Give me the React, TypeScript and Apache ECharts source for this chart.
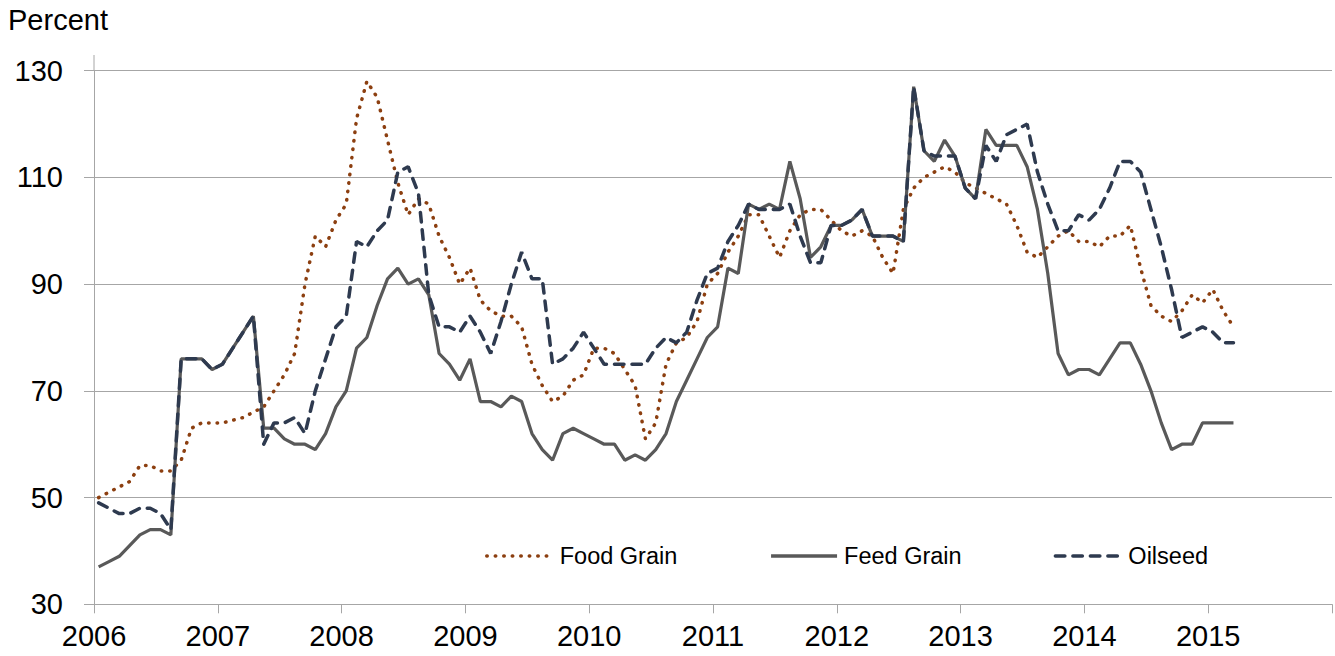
import React, { useEffect, useRef } from "react";
import * as echarts from "echarts";

const FONT = "'Liberation Sans', Arial, Helvetica, sans-serif";

const startYear = 2006;
const seriesNames = ["Food Grain", "Feed Grain", "Oilseed"];
const xTickYears = [2006, 2007, 2008, 2009, 2010, 2011, 2012, 2013, 2014, 2015];
const yTickLabels = [30, 50, 70, 90, 110, 130];

// Monthly values, Jan 2006 .. Mar 2015 (percent)
const foodGrain = [
  50, 51, 52, 53, 56, 56, 55, 55, 57, 63,
  64, 64, 64, 64.5, 65, 66, 67, 70, 73, 77,
  90, 99, 97, 102, 105, 121, 128, 125, 117, 109,
  103, 106, 105, 99, 95, 90, 93, 87, 85, 84,
  84, 82, 75, 71, 68, 69, 72, 73, 78, 78,
  77, 74, 71, 61, 64, 75, 79, 80, 83, 90,
  92, 96, 99, 103, 103, 99, 95, 100, 103, 104,
  104, 102, 100, 99, 100, 99, 95, 92, 104, 108,
  110, 111, 112, 111, 109, 108, 107, 106, 105, 101,
  96, 95, 97, 99, 100, 98, 98, 97, 99, 99,
  101, 93, 86, 84, 83, 85, 88, 86.5, 89, 85, 82,
];

const feedGrain = [
  37, 38, 39, 41, 43, 44, 44, 43, 76, 76,
  76, 74, 75, 78, 81, 84, 63, 63, 61, 60,
  60, 59, 62, 67, 70, 78, 80, 86, 91, 93,
  90, 91, 88, 77, 75, 72, 76, 68, 68, 67,
  69, 68, 62, 59, 57, 62, 63, 62, 61, 60,
  60, 57, 58, 57, 59, 62, 68, 72, 76, 80,
  82, 93, 92, 105, 104, 105, 104, 113, 106, 95,
  97, 101, 101, 102, 104, 99, 99, 99, 98, 127,
  115, 113, 117, 114, 108, 106, 119, 116, 116, 116,
  112, 104, 92, 77, 73, 74, 74, 73, 76, 79,
  79, 75, 70, 64, 59, 60, 60, 64, 64, 64, 64,
];

const oilseed = [
  49, 48, 47, 47, 48, 48, 47, 44, 76, 76,
  76, 74, 75, 78, 81, 84, 60, 64, 64, 65,
  62, 70, 76, 82, 84, 98, 97, 100, 102, 111,
  112, 107, 88, 82, 82, 81, 84, 81, 77, 83,
  90, 96, 91, 91, 75, 76, 78, 81, 78, 75,
  75, 75, 75, 75, 78, 80, 79, 81, 87, 92,
  93, 98, 101, 105, 104, 104, 104, 105, 99, 94,
  94, 101, 101, 102, 104, 99, 99, 99, 98, 127,
  115, 114, 114, 114, 108, 106, 116, 113, 118, 119,
  120, 111, 105, 100, 100, 103, 102, 104, 108, 113,
  113, 111, 104, 97, 89, 80, 81, 82, 81, 79, 79,
];

// mid-month position of month index i, in decimal years
const monthX = (i: number) => startYear + (i + 0.45) / 12;
const toPairs = (arr: number[]) => arr.map((v, i) => [monthX(i), v]);

const GRAY = "#a6a6a6";

export default function App() {
  const ref = useRef<HTMLDivElement>(null);

  useEffect(() => {
    if (!ref.current) return;
    const chart = echarts.init(ref.current, null, { renderer: "svg" });
    const yMin = yTickLabels[0];
    const yMax = yTickLabels[yTickLabels.length - 1];
    const yStep = yTickLabels[1] - yTickLabels[0];
    chart.setOption({
      animation: false,
      backgroundColor: "#ffffff",
      textStyle: { fontFamily: FONT },
      title: {
        text: "Percent",
        left: 8,
        top: 5,
        padding: 0,
        textStyle: { fontSize: 29, fontWeight: "normal", color: "#000", fontFamily: FONT },
      },
      legend: {
        data: seriesNames,
        left: 480,
        top: 539,
        itemWidth: 66,
        itemHeight: 14,
        itemGap: 92,
        itemStyle: { opacity: 0 },
        lineStyle: { width: 3.5 },
        textStyle: { fontSize: 23.5, color: "#000", fontFamily: FONT, padding: [0, 0, 0, 2] },
      },
      grid: { left: 94, right: 3, top: 70.7, bottom: 51.7 },
      xAxis: {
        type: "value",
        min: xTickYears[0],
        max: xTickYears[xTickYears.length - 1] + 1,
        interval: 1,
        axisLine: { show: true, lineStyle: { color: GRAY, width: 1 } },
        axisTick: { show: true, length: 9, lineStyle: { color: GRAY, width: 1 } },
        axisLabel: {
          fontSize: 29,
          color: "#000",
          fontFamily: FONT,
          margin: 17,
          formatter: (v: number) => (xTickYears.indexOf(v) >= 0 ? String(v) : ""),
        },
        splitLine: { show: false },
      },
      yAxis: [
        {
          type: "value",
          min: 0,
          max: yMax - yMin,
          interval: yStep,
          axisLine: { show: true, lineStyle: { color: GRAY, width: 1 } },
          axisTick: { show: true, length: 10, lineStyle: { color: GRAY, width: 1 } },
          axisLabel: {
            fontSize: 29,
            color: "#000",
            fontFamily: FONT,
            margin: 31,
            formatter: (v: number) => String(v + yMin),
          },
          splitLine: { show: true, lineStyle: { color: GRAY, width: 1 } },
        },
        { type: "value", min: yMin, max: yMax, show: false },
      ],
      graphic: [
        {
          type: "line",
          shape: { x1: 94, y1: 55, x2: 94, y2: 71 },
          style: { stroke: GRAY, lineWidth: 1 },
          silent: true,
        },
      ],
      series: [
        {
          name: seriesNames[0],
          type: "line",
          yAxisIndex: 1,
          data: toPairs(foodGrain),
          symbol: "none",
          lineStyle: { color: "#8c3f10", width: 3.5, type: [0.5, 8], cap: "round" },
          itemStyle: { color: "#8c3f10" },
        },
        {
          name: seriesNames[1],
          type: "line",
          yAxisIndex: 1,
          data: toPairs(feedGrain),
          symbol: "none",
          lineStyle: { color: "#595959", width: 3.2, type: "solid" },
          itemStyle: { color: "#595959" },
        },
        {
          name: seriesNames[2],
          type: "line",
          yAxisIndex: 1,
          data: toPairs(oilseed),
          symbol: "none",
          lineStyle: { color: "#2e3a4f", width: 3.5, type: [9.5, 8], cap: "round" },
          itemStyle: { color: "#2e3a4f" },
        },
      ],
    });
    return () => chart.dispose();
  }, []);

  return (
    <div
      ref={ref}
      style={{ position: "absolute", left: 0, top: 0, width: 1335, height: 656 }}
    />
  );
}
